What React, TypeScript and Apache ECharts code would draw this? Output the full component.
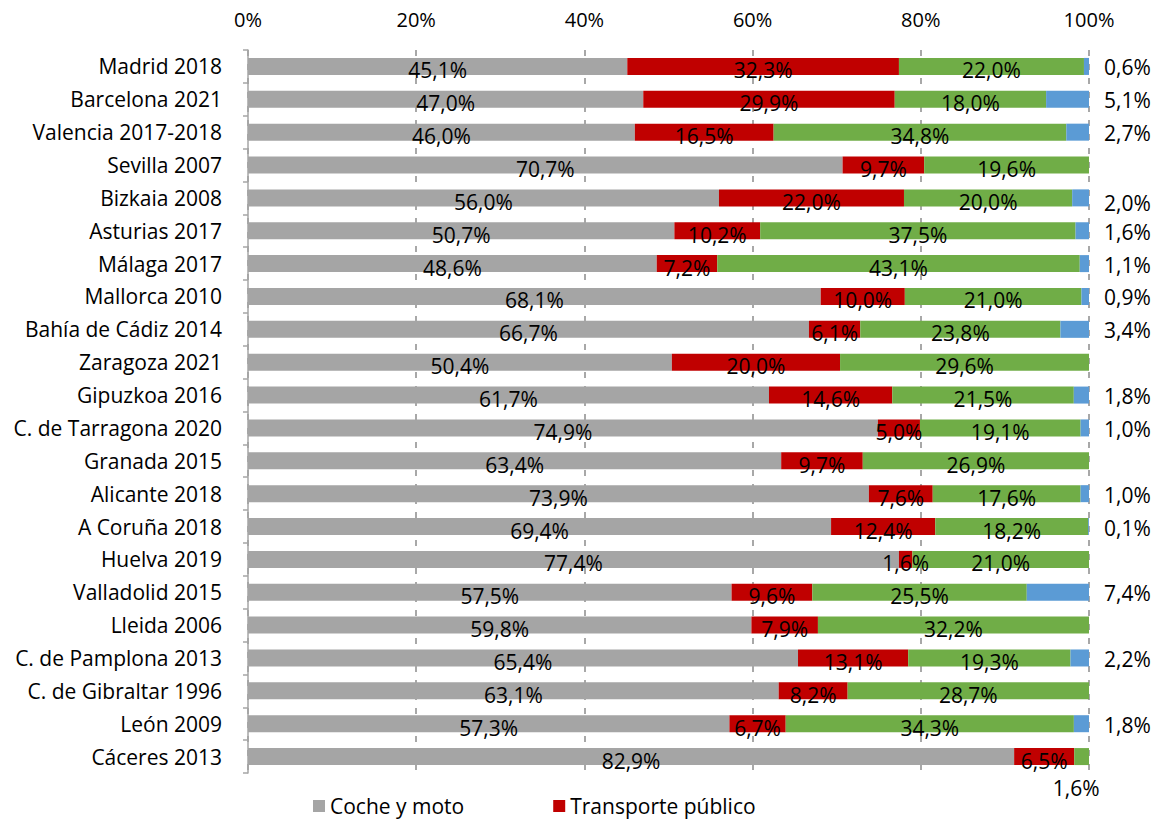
import React, { useEffect, useRef } from "react";
import * as echarts from "echarts";

const categories = [
  "Madrid 2018",
  "Barcelona 2021",
  "Valencia 2017-2018",
  "Sevilla 2007",
  "Bizkaia 2008",
  "Asturias 2017",
  "Málaga 2017",
  "Mallorca 2010",
  "Bahía de Cádiz 2014",
  "Zaragoza 2021",
  "Gipuzkoa 2016",
  "C. de Tarragona 2020",
  "Granada 2015",
  "Alicante 2018",
  "A Coruña 2018",
  "Huelva 2019",
  "Valladolid 2015",
  "Lleida 2006",
  "C. de Pamplona 2013",
  "C. de Gibraltar 1996",
  "León 2009",
  "Cáceres 2013",
];

const cocheMoto = [45.1, 47.0, 46.0, 70.7, 56.0, 50.7, 48.6, 68.1, 66.7, 50.4, 61.7, 74.9, 63.4, 73.9, 69.4, 77.4, 57.5, 59.8, 65.4, 63.1, 57.3, 82.9];
const transportePublico = [32.3, 29.9, 16.5, 9.7, 22.0, 10.2, 7.2, 10.0, 6.1, 20.0, 14.6, 5.0, 9.7, 7.6, 12.4, 1.6, 9.6, 7.9, 13.1, 8.2, 6.7, 6.5];
const aPieBici = [22.0, 18.0, 34.8, 19.6, 20.0, 37.5, 43.1, 21.0, 23.8, 29.6, 21.5, 19.1, 26.9, 17.6, 18.2, 21.0, 25.5, 32.2, 19.3, 28.7, 34.3, 1.6];
const otros: (number | null)[] = [0.6, 5.1, 2.7, null, 2.0, 1.6, 1.1, 0.9, 3.4, null, 1.8, 1.0, null, 1.0, 0.1, null, 7.4, null, 2.2, null, 1.8, null];

const xTicks = [0, 20, 40, 60, 80, 100];

const FONT = "Open Sans";
const FS = 21;

export default function App() {
  const ref = useRef<HTMLDivElement>(null);

  useEffect(() => {
    if (!ref.current) return;
    const chart = echarts.init(ref.current, undefined, { renderer: "svg" });

    const totals = categories.map(
      (_, i) => cocheMoto[i] + transportePublico[i] + aPieBici[i] + (otros[i] ?? 0)
    );

    const fmt = (p: any) => {
      const raw = p.data && p.data.raw;
      if (raw === null || raw === undefined) return "";
      return raw.toFixed(1).replace(".", ",") + "%";
    };

    const build = (arr: (number | null)[], special?: (i: number) => any) =>
      arr.map((v, i) => {
        const item: any = {
          value: v === null ? null : (v / totals[i]) * 100,
          raw: v,
        };
        if (special) {
          const s = special(i);
          if (s) item.label = s;
        }
        return item;
      });

    const insideLabel = {
      show: true,
      position: "inside",
      color: "#000",
      fontFamily: FONT,
      fontSize: FS,
      offset: [0, 4],
      formatter: fmt,
    };

    const option: any = {
      animation: false,
      textStyle: { fontFamily: FONT },
      grid: { left: 248, right: 71, top: 50, height: 723 },
      legend: {
        show: true,
        data: ["Coche y moto", "Transporte público"],
        left: 313,
        top: 794,
        padding: 0,
        itemWidth: 12,
        itemHeight: 12,
        itemGap: 89,
        icon: "rect",
        textStyle: { fontFamily: FONT, fontSize: FS, color: "#000", lineHeight: 24 },
      },
      xAxis: {
        type: "value",
        position: "top",
        min: xTicks[0],
        max: xTicks[xTicks.length - 1],
        interval: 20,
        axisLine: { show: false },
        axisTick: { show: false },
        axisLabel: {
          formatter: "{value}%",
          fontFamily: FONT,
          fontSize: 20,
          color: "#000",
          margin: 21,
        },
        splitLine: {
          show: true,
          lineStyle: { color: "#8c8c8c", type: [6, 8], width: 1.5 },
        },
      },
      yAxis: {
        type: "category",
        data: categories,
        inverse: true,
        axisLine: { show: true, lineStyle: { color: "#a6a6a6", width: 1.5 } },
        axisTick: { show: true, length: 5, interval: 0, lineStyle: { color: "#a6a6a6", width: 1.5 } },
        axisLabel: {
          fontFamily: FONT,
          fontSize: FS,
          color: "#000",
          margin: 26,
          interval: 0,
        },
        splitLine: { show: false },
      },
      series: [
        {
          name: "Coche y moto",
          type: "bar",
          stack: "total",
          barWidth: 17,
          itemStyle: { color: "#a5a5a5" },
          label: insideLabel,
          data: build(cocheMoto),
        },
        {
          name: "Transporte público",
          type: "bar",
          stack: "total",
          barWidth: 17,
          itemStyle: { color: "#c00000" },
          label: insideLabel,
          data: build(transportePublico),
        },
        {
          name: "A pie y en bicicleta",
          type: "bar",
          stack: "total",
          barWidth: 17,
          itemStyle: { color: "#70ad47" },
          label: insideLabel,
          data: build(aPieBici, (i) =>
            i === categories.length - 1
              ? {
                  show: true,
                  position: [2, 40],
                  align: "center",
                  verticalAlign: "middle",
                  offset: [0, 0],
                }
              : null
          ),
        },
        {
          name: "Otros",
          type: "bar",
          stack: "total",
          barWidth: 17,
          itemStyle: { color: "#5b9bd5" },
          label: {
            show: true,
            position: "right",
            distance: 15,
            color: "#000",
            fontFamily: FONT,
            fontSize: FS,
            offset: [0, 1],
            formatter: fmt,
          },
          data: build(otros, (i) => (i === 4 ? { offset: [0, 5] } : null)),
        },
      ],
    };

    chart.setOption(option);
    return () => chart.dispose();
  }, []);

  return (
    <div
      ref={ref}
      style={{ position: "absolute", left: 0, top: 0, width: 1160, height: 822 }}
    />
  );
}
